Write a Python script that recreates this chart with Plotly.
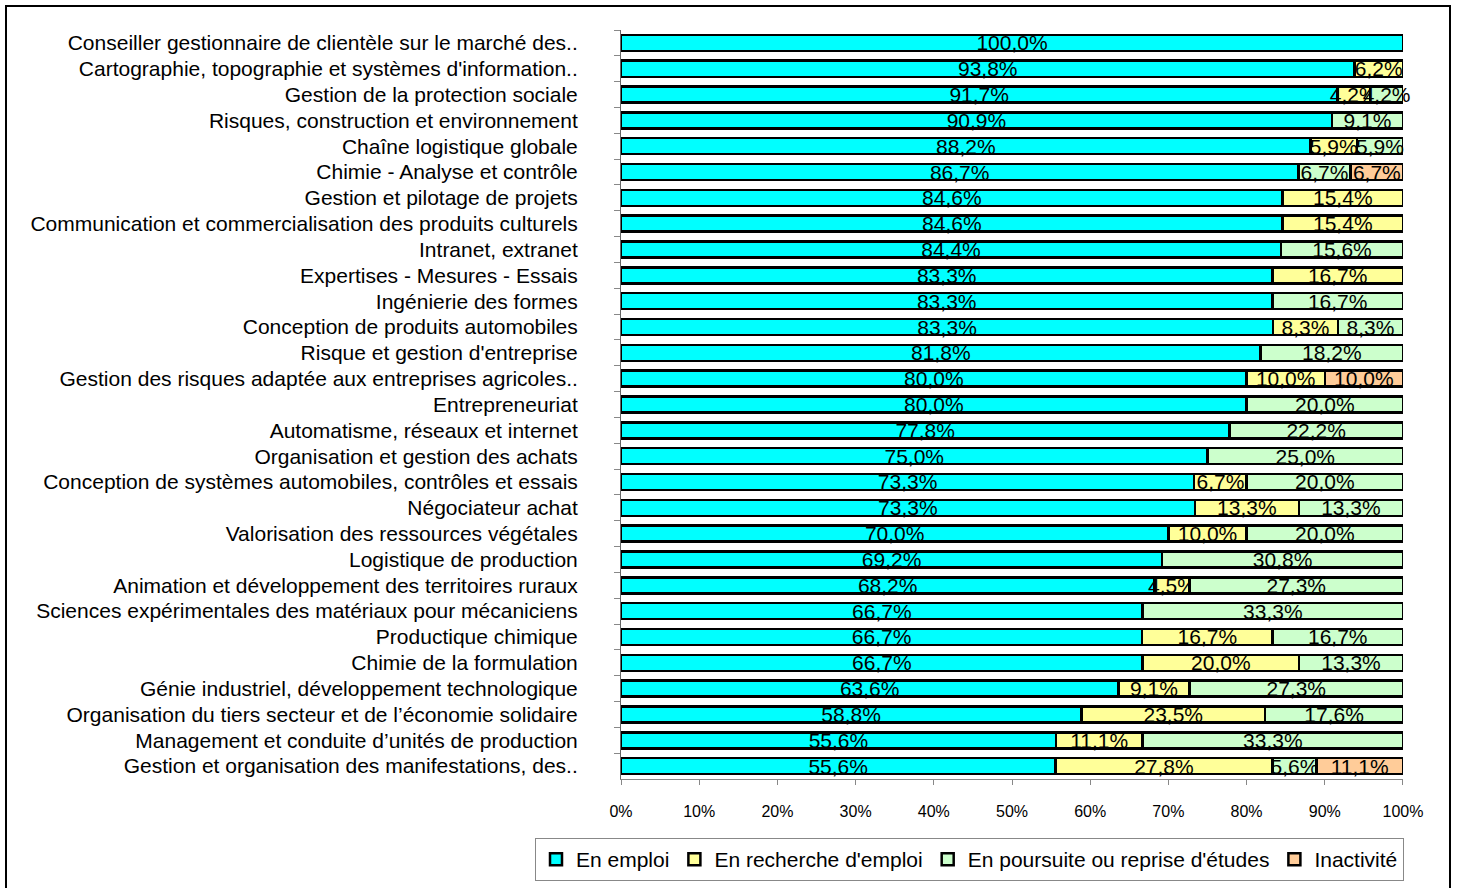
import plotly.graph_objects as go

categories = [
    "Conseiller gestionnaire de clientèle sur le marché des..",
    "Cartographie, topographie et systèmes d'information..",
    "Gestion de la protection sociale",
    "Risques, construction et environnement",
    "Chaîne logistique globale",
    "Chimie - Analyse et contrôle",
    "Gestion et pilotage de projets",
    "Communication et commercialisation des produits culturels",
    "Intranet, extranet",
    "Expertises - Mesures - Essais",
    "Ingénierie des formes",
    "Conception de produits automobiles",
    "Risque et gestion d'entreprise",
    "Gestion des risques adaptée aux entreprises agricoles..",
    "Entrepreneuriat",
    "Automatisme, réseaux et internet",
    "Organisation et gestion des achats",
    "Conception de systèmes automobiles, contrôles et essais",
    "Négociateur achat",
    "Valorisation des ressources végétales",
    "Logistique de production",
    "Animation et développement des territoires ruraux",
    "Sciences expérimentales des matériaux pour mécaniciens",
    "Productique chimique",
    "Chimie de la formulation",
    "Génie industriel, développement technologique",
    "Organisation du tiers secteur et de l’économie solidaire",
    "Management et conduite d’unités de production",
    "Gestion et organisation des manifestations, des..",
]

en_emploi = [100.0, 93.8, 91.7, 90.9, 88.2, 86.7, 84.6, 84.6, 84.4, 83.3, 83.3, 83.3, 81.8, 80.0, 80.0,
             77.8, 75.0, 73.3, 73.3, 70.0, 69.2, 68.2, 66.7, 66.7, 66.7, 63.6, 58.8, 55.6, 55.6]
en_recherche = [0, 6.2, 4.2, 0, 5.9, 0, 15.4, 15.4, 0, 16.7, 0, 8.3, 0, 10.0, 0,
                0, 0, 6.7, 13.3, 10.0, 0, 4.5, 0, 16.7, 20.0, 9.1, 23.5, 11.1, 27.8]
en_etudes = [0, 0, 4.2, 9.1, 5.9, 6.7, 0, 0, 15.6, 0, 16.7, 8.3, 18.2, 0, 20.0,
             22.2, 25.0, 20.0, 13.3, 20.0, 30.8, 27.3, 33.3, 16.7, 13.3, 27.3, 17.6, 33.3, 5.6]
inactivite = [0, 0, 0, 0, 0, 6.7, 0, 0, 0, 0, 0, 0, 0, 10.0, 0,
              0, 0, 0, 0, 0, 0, 0, 0, 0, 0, 0, 0, 0, 11.1]

x_ticks = [0, 10, 20, 30, 40, 50, 60, 70, 80, 90, 100]
x_tick_labels = ["0%", "10%", "20%", "30%", "40%", "50%", "60%", "70%", "80%", "90%", "100%"]

series = [
    ("En emploi", en_emploi, "#00FFFF"),
    ("En recherche d'emploi", en_recherche, "#FFFF99"),
    ("En poursuite ou reprise d'études", en_etudes, "#CCFFCC"),
    ("Inactivité", inactivite, "#FFCC99"),
]

FONT = "Liberation Sans, Arial, sans-serif"

fig = go.Figure()
for name, vals, color in series:
    xs = [v if v else None for v in vals]
    fig.add_trace(go.Bar(
        y=categories, x=xs, customdata=vals, name=name, orientation="h",
        marker=dict(color=color, line=dict(color="black", width=2.5)),
        texttemplate="%{customdata:.1f}%", textposition="inside", insidetextanchor="middle",
        textfont=dict(color="black", size=21, family=FONT),
        cliponaxis=False, hoverinfo="skip",
    ))

W, H = 1458, 888
L, R, T, B = 621, 55, 30, 109
pw, ph = W - L - R, H - T - B

def px(x):
    return (x - L) / pw

def py(y):
    return (H - B - y) / ph

fig.update_layout(
    width=W, height=H,
    barmode="stack", barnorm="percent", bargap=0.38,
    separators=",.",
    uniformtext=dict(minsize=21, mode="show"),
    margin=dict(l=L, r=R, t=T, b=B, autoexpand=False),
    paper_bgcolor="white", plot_bgcolor="white",
    font=dict(family=FONT, size=21, color="black"),
    xaxis=dict(range=[0, 100.001], tickvals=x_ticks, ticktext=x_tick_labels,
               showgrid=False, zeroline=False, showline=True, linecolor="#888888", linewidth=1,
               ticks="outside", ticklen=5, tickcolor="#888888",
               tickfont=dict(size=16, family=FONT), ticklabelstandoff=13),
    yaxis=dict(autorange="reversed", showgrid=False, zeroline=False,
               showline=True, linecolor="#666666", linewidth=1,
               ticks="outside", ticklen=6, tickcolor="#888888", tickson="boundaries",
               tickfont=dict(size=21, family=FONT), ticklabelstandoff=38),
    legend=dict(orientation="h", xref="paper", x=px(535), xanchor="left",
                yref="paper", y=py(838), yanchor="top", traceorder="normal",
                bordercolor="#888888", borderwidth=1, bgcolor="white",
                font=dict(size=21, family=FONT), itemwidth=30, tracegroupgap=0),
    shapes=[dict(type="rect", xref="paper", yref="paper",
                 x0=px(6), x1=px(1450), y0=py(895), y1=py(6),
                 line=dict(color="black", width=2), fillcolor="rgba(0,0,0,0)", layer="below")],
)

fig.write_html("out.html", config={"displayModeBar": False},
               post_script="document.body.style.margin='0';document.body.style.overflow='hidden';")
